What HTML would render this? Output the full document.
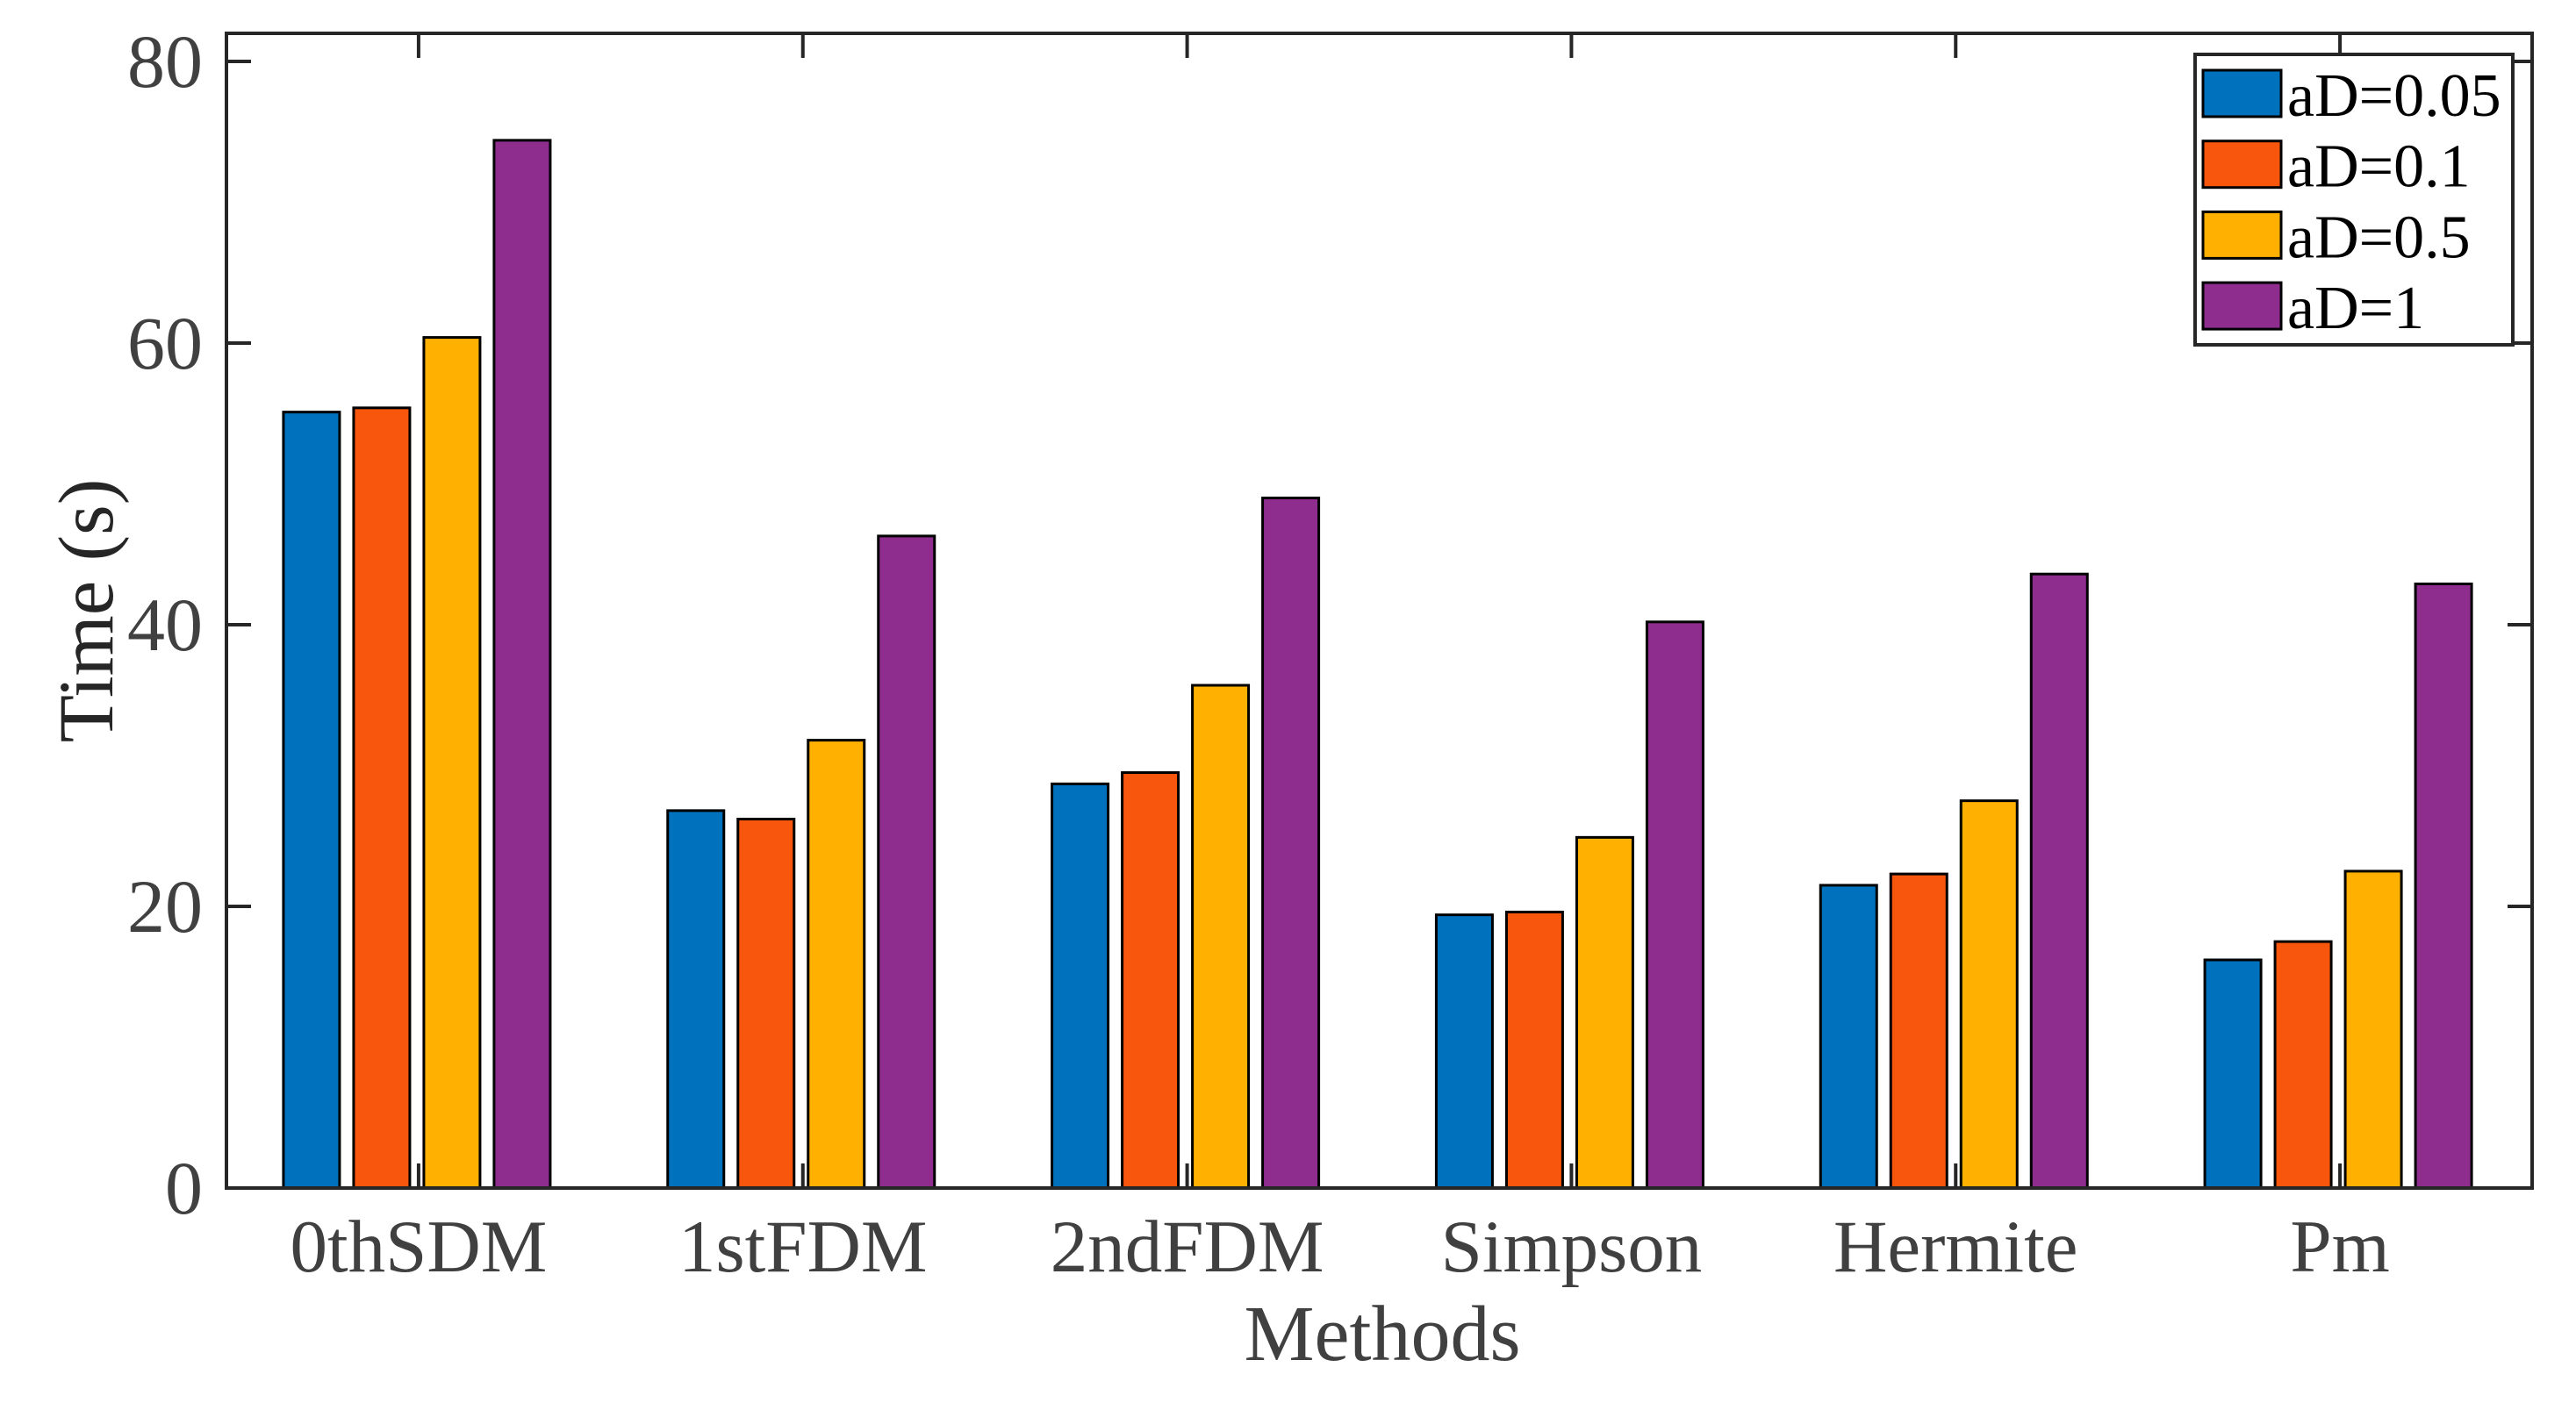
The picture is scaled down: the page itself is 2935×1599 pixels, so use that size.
<!DOCTYPE html>
<html><head><meta charset="utf-8"><style>
html,body{margin:0;padding:0;background:#fff;}
svg{display:block;}
text{font-family:"Liberation Serif",serif;}
</style></head><body>
<svg id="chart" width="2935" height="1599" viewBox="0 0 2935 1599" xmlns="http://www.w3.org/2000/svg">
<rect x="0" y="0" width="2935" height="1599" fill="#fff"/>
<g id="bars"></g>
<g id="axes"></g>
<text x="98" y="696" font-size="89" fill="#262626" text-anchor="middle" transform="rotate(-90 98 696)" dy="30">Time (s)</text>
<text x="1575" y="1550" font-size="90" fill="#404040" text-anchor="middle">Methods</text>
<g id="legend"></g>
</svg>
<script>
const categories = ["0thSDM","1stFDM","2ndFDM","Simpson","Hermite","Pm"];
const seriesNames = ["aD=0.05","aD=0.1","aD=0.5","aD=1"];
const s005 = [55.1, 26.8, 28.7, 19.4, 21.5, 16.2];
const s01 = [55.4, 26.2, 29.5, 19.6, 22.3, 17.5];
const s05 = [60.4, 31.8, 35.7, 24.9, 27.5, 22.5];
const s1 = [74.4, 46.3, 49.0, 40.2, 43.6, 42.9];
const yTicks = [0, 20, 40, 60, 80];
const colors = ["#0072BD","#F9560D","#FFB000","#8F2D8F"];

const NS = "http://www.w3.org/2000/svg";
const L = 258, R = 2885, T = 38, B = 1354;
const y0px = 1354, y80px = 70;
function yS(v){ return y0px - (y0px - y80px) * v / 80; }
function xS(i){ return L + (R - L) * (i + 0.5) / categories.length; }
function mk(tag, attrs, parent){ const e = document.createElementNS(NS, tag); for (const k in attrs) e.setAttribute(k, attrs[k]); parent.appendChild(e); return e; }

const series = [s005, s01, s05, s1];
const bars = document.getElementById('bars');
const offsets = [-122, -42, 38, 118];
const bw = 64;
series.forEach((vals, si) => {
  vals.forEach((v, ci) => {
    const cx = xS(ci) + offsets[si];
    const r = mk('rect', {x: cx - bw/2, y: yS(v), width: bw, height: yS(0) - yS(v), fill: colors[si], stroke: '#000', 'stroke-width': 3}, bars);
    
    
  });
});

const axes = document.getElementById('axes');
const box = mk('rect', {x: L, y: T, width: R - L, height: B - T, fill: 'none', stroke: '#262626', 'stroke-width': 4}, axes);


yTicks.forEach(t => {
  const y = yS(t);
  mk('line', {x1: L, x2: L + 28, y1: y, y2: y, stroke: '#262626', 'stroke-width': 4}, axes);
  mk('line', {x1: R, x2: R - 28, y1: y, y2: y, stroke: '#262626', 'stroke-width': 4}, axes);
  const tx = mk('text', {x: 231, y: y + 29, 'font-size': 86, fill: '#404040', 'text-anchor': 'end'}, axes);
  tx.textContent = t;
  
  
});
categories.forEach((c, i) => {
  const x = xS(i);
  mk('line', {x1: x, x2: x, y1: B, y2: B - 28, stroke: '#262626', 'stroke-width': 4}, axes);
  mk('line', {x1: x, x2: x, y1: T, y2: T + 28, stroke: '#262626', 'stroke-width': 4}, axes);
  const tx = mk('text', {x: x, y: 1449, 'font-size': 85, fill: '#404040', 'text-anchor': 'middle'}, axes);
  tx.textContent = c;
  
  
});

const lg = document.getElementById('legend');
const lb = mk('rect', {x: 2501, y: 62, width: 362, height: 331, fill: '#fff', stroke: '#262626', 'stroke-width': 4}, lg);


seriesNames.forEach((n, i) => {
  const yy = 80 + i * 80.7;
  const sw = mk('rect', {x: 2510, y: yy, width: 89, height: 53, fill: colors[i], stroke: '#000', 'stroke-width': 3}, lg);
  
  
  const tx = mk('text', {x: 2606, y: yy + 52, 'font-size': 70, fill: '#000'}, lg);
  tx.textContent = n;
  
  
});
</script>
</body></html>
